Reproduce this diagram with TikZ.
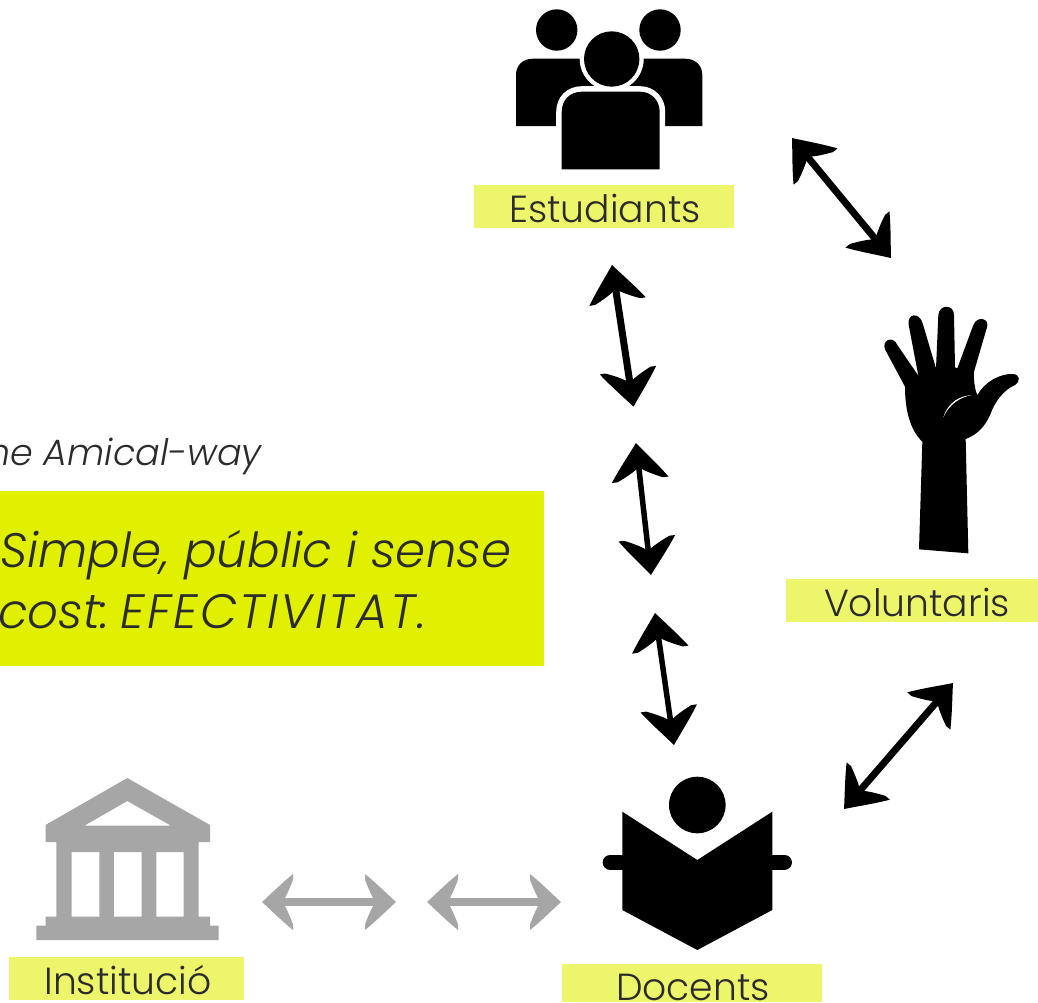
\documentclass[tikz,border=0pt]{standalone}
\usepackage{fontspec}
\setmainfont{Poppins Light}[ItalicFont={Poppins Light Italic}]
\usetikzlibrary{arrows.meta}
\definecolor{lab}{HTML}{EDF56B}
\definecolor{lime}{HTML}{E0F000}
\definecolor{greyc}{HTML}{A6A6A6}
\definecolor{ink}{HTML}{2B2B2B}
\newdimen\swL
\newdimen\swW
\newdimen\swI
\pgfdeclarearrow{
  name=Swoop,
  defaults={length=37pt,width=57pt},
  setup code={
    \pgfarrowssettipend{0pt}
    \pgfarrowssetlineend{-16pt}
    \pgfarrowssetbackend{-\pgfarrowlength}
    \pgfarrowssetvisualbackend{-16pt}
    \pgfarrowshullpoint{0pt}{0pt}
    \pgfarrowshullpoint{-\pgfarrowlength}{.5\pgfarrowwidth}
    \pgfarrowshullpoint{-\pgfarrowlength}{-.5\pgfarrowwidth}
    \pgfarrowssavethe\pgfarrowlength
    \pgfarrowssavethe\pgfarrowwidth
  },
  drawing code={
    \pgfsetdash{}{0pt}
    \swL=\pgfarrowlength
    \swW=.5\pgfarrowwidth
    \swI=.8\swW
    \pgfpathmoveto{\pgfpoint{0pt}{0pt}}
    \pgfpathcurveto{\pgfpoint{-.3\swL}{.3\swW}}{\pgfpoint{-.64\swL}{.68\swW}}{\pgfpoint{-\swL}{\swW}}
    \pgfpathlineto{\pgfpoint{-\swL}{\swI}}
    \pgfpathcurveto{\pgfpoint{-.9\swL}{.5\swW}}{\pgfpoint{-.78\swL}{.2\swW}}{\pgfpoint{-.66\swL}{0pt}}
    \pgfpathcurveto{\pgfpoint{-.78\swL}{-.2\swW}}{\pgfpoint{-.9\swL}{-.5\swW}}{\pgfpoint{-\swL}{-\swI}}
    \pgfpathlineto{\pgfpoint{-\swL}{-\swW}}
    \pgfpathcurveto{\pgfpoint{-.64\swL}{-.68\swW}}{\pgfpoint{-.3\swL}{-.3\swW}}{\pgfpoint{0pt}{0pt}}
    \pgfpathclose
    \pgfusepathqfill
  },
  parameters={\the\pgfarrowlength,\the\pgfarrowwidth},
}
\tikzset{
  labeltext/.style={anchor=base,inner sep=0pt,text=ink,font=\fontsize{37.7}{37.7}\selectfont},
  link/.style={line width=7pt,black,{Swoop}-{Swoop}},
  linkthin/.style={line width=5.5pt,black,{Swoop}-{Swoop}},
  greylink/.style={line width=8pt,greyc,{Swoop[length=31pt,width=56pt]}-{Swoop[length=31pt,width=56pt]}},
  quote/.style={anchor=base west,inner sep=0pt,text=ink,font=\fontsize{48.3}{48.3}\selectfont\itshape},
}
\begin{document}
\begin{tikzpicture}[x=1pt,y=-1pt]
\useasboundingbox (0,0) rectangle (1038,1002);
\clip (0,0) rectangle (1038,1002);
% label boxes
\fill[lab] (474,185) rectangle (734,228);
\fill[lab] (786,579) rectangle (1038,622);
\fill[lab] (562,964) rectangle (822,1002);
\fill[lab] (9,957) rectangle (244,1000);
\fill[lime] (0,491) rectangle (544,666);
% labels
\node[labeltext] (estudiants) at (605,222) {Estudiants};
\node[labeltext] (voluntaris) at (917,616) {Voluntaris};
\node[labeltext] (docents) at (693,1000) {Docents};
\node[labeltext] (institucio) at (128,994) {Institució};
% texts
\node[anchor=base east,inner sep=0pt,text=ink,font=\fontsize{36.5}{36.5}\selectfont\itshape] (amical) at (262,465) {the Amical-way};
\node[quote] (simple) at (0,567) {Simple, públic i sense};
\node[quote] (cost) at (-2,628) {cost:\hspace{-8pt} {\addfontfeature{LetterSpace=5}EFECTIVITAT.}};
% people
\fill (556.7,30) circle (20.7);
\fill (660,30) circle (20.7);
\fill (516,126) -- (516,75) .. controls (516,65) and (523,58.7) .. (533,58.7) -- (685,58.7) .. controls (695,58.7) and (702.3,65) .. (702.3,75) -- (702.3,126) -- cycle;
\draw[white,line width=11pt] (561.7,169.3) -- (561.7,112) .. controls (561.7,100) and (570,91.7) .. (582,91.7) -- (640,91.7) .. controls (651,91.7) and (659.7,100) .. (659.7,112) -- (659.7,169.3);
\fill (561.7,169.3) -- (561.7,112) .. controls (561.7,100) and (570,91.7) .. (582,91.7) -- (640,91.7) .. controls (651,91.7) and (659.7,100) .. (659.7,112) -- (659.7,169.3) -- cycle;
\fill[white] (611.7,59) circle (32);
\fill (611.7,59) circle (27.7);
% hand
\begin{scope}[shift={(860,290)},scale=1/3]
\fill (177,778) -- (187,455) .. controls (150,420) and (135,360) .. (135,290)
  -- (76,180) .. controls (62,150) and (100,135) .. (112,165)
  -- (175,257) -- (146,105) .. controls (140,70) and (178,65) .. (188,100)
  -- (228,235) -- (235,75) .. controls (238,42) and (282,42) .. (282,75)
  -- (285,232) -- (292,235) -- (340,105) .. controls (352,75) and (392,85) .. (380,115)
  -- (342,245) .. controls (340,270) and (345,300) .. (352,315)
  .. controls (375,275) and (420,250) .. (460,252)
  .. controls (480,254) and (482,275) .. (465,285)
  .. controls (430,300) and (405,335) .. (390,375)
  .. controls (375,410) and (350,435) .. (317,447)
  -- (325,790) -- cycle;
\fill[white] (335,315) .. controls (300,318) and (265,335) .. (250,382) .. controls (268,342) and (300,322) .. (335,315) -- cycle;
\end{scope}
% reader
\fill (697.3,805) circle (28.3);
\draw[line width=15.3pt,line cap=round] (610.3,862.3) -- (630,862.3);
\draw[line width=15.3pt,line cap=round] (765,862.3) -- (784.3,862.3);
\fill (622.3,811.7) -- (697.3,860) -- (772.3,811.7) -- (772.3,910) -- (697.3,950) -- (622.3,910) -- cycle;
% institution
\begin{scope}[greyc]
\fill[even odd rule] (127.3,778) -- (210,825) -- (210,842) -- (198.5,842) -- (198.5,916.7) -- (210,916.7) -- (210,925.7) -- (218.5,925.7) -- (218.5,940) -- (36.4,940) -- (36.4,925.7) -- (45.5,925.7) -- (45.5,916.7) -- (56.4,916.7) -- (56.4,842) -- (45.5,842) -- (45.5,825) -- cycle
 (127.3,801) -- (171,825.7) -- (84.4,825.7) -- cycle
 (71.6,852) rectangle (99.3,916.7)
 (113.8,852) rectangle (141.5,916.7)
 (156.4,852) rectangle (183.6,916.7);
\end{scope}
% connector ends
\coordinate (a1) at (792,138); \coordinate (b1) at (891,258);
\coordinate (a2) at (612,265); \coordinate (b2) at (633.5,406.7);
\coordinate (a3) at (636,443); \coordinate (b3) at (651,575);
\coordinate (a4) at (655,613); \coordinate (b4) at (674,745);
\coordinate (a5) at (953,683); \coordinate (b5) at (844,809);
\coordinate (a6) at (262,902); \coordinate (b6) at (396,902);
\coordinate (a7) at (427,902); \coordinate (b7) at (561,902);
\draw[link] (a1) -- (b1);
\draw[link] (a2) -- (b2);
\draw[linkthin] (a3) -- (b3);
\draw[linkthin] (a4) -- (b4);
\draw[link] (a5) -- (b5);
\draw[greylink] (a6) -- (b6);
\draw[greylink] (a7) -- (b7);
\end{tikzpicture}
\end{document}
